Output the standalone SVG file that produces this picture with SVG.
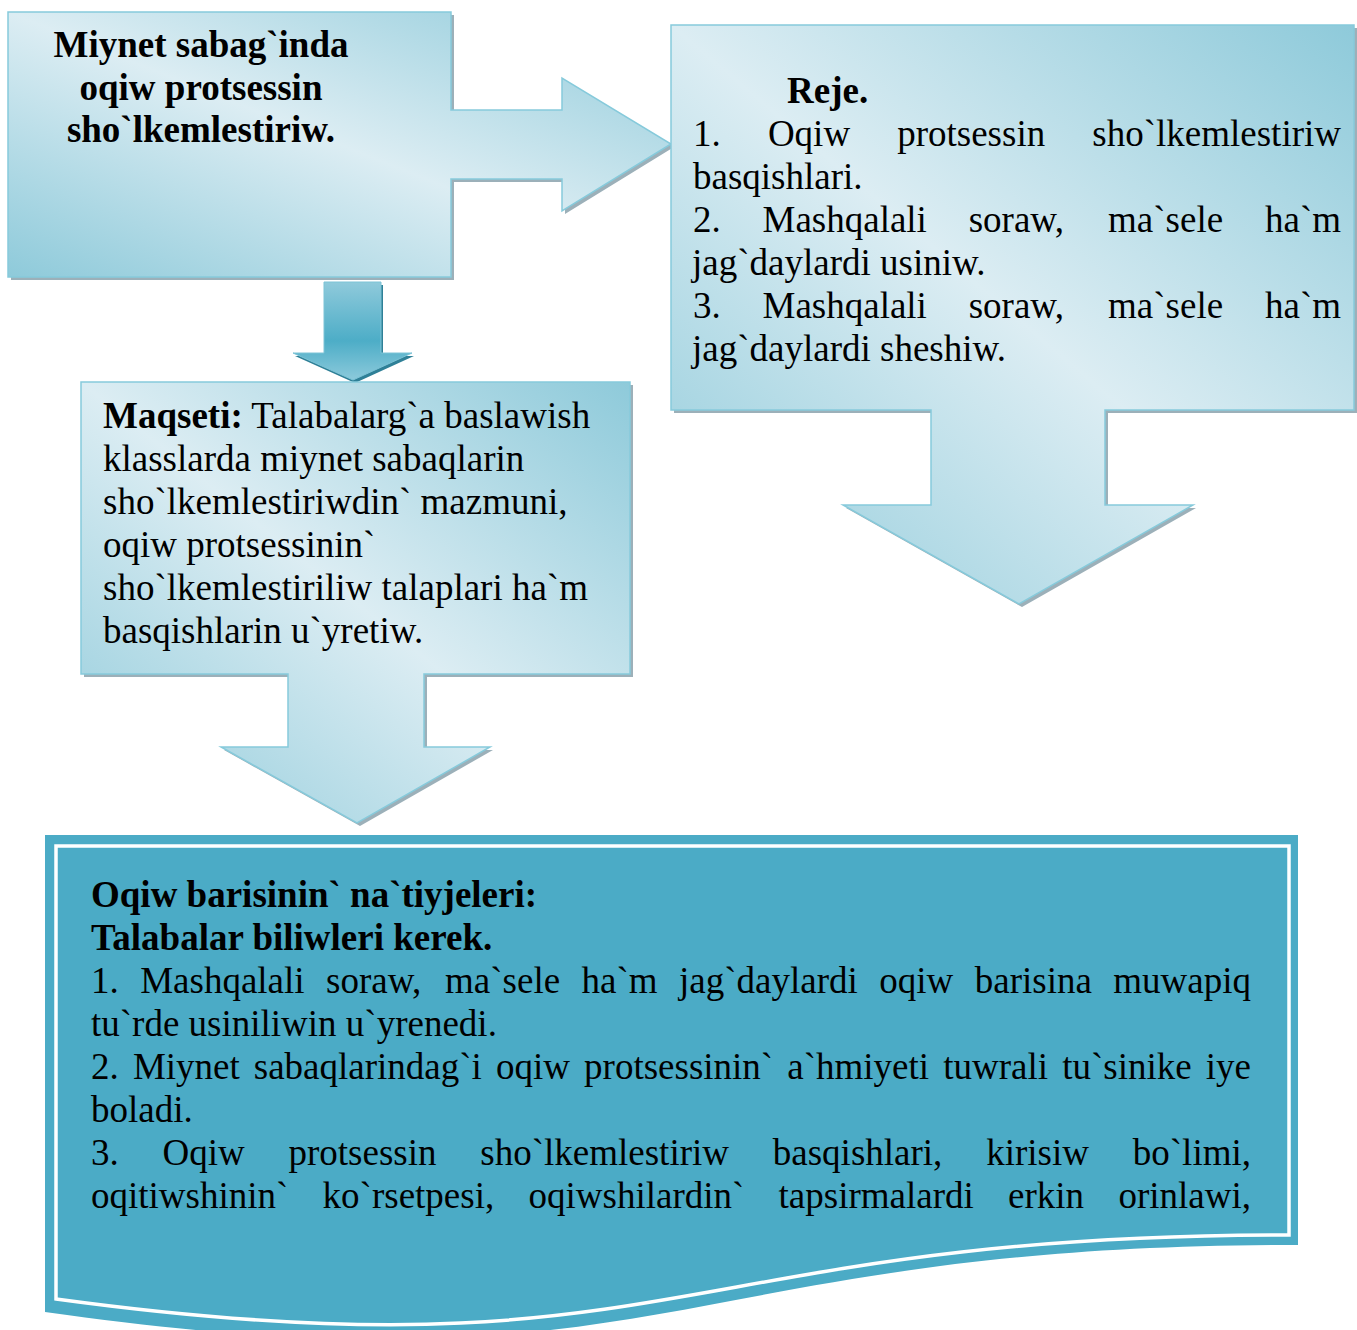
<svg xmlns="http://www.w3.org/2000/svg" width="1357" height="1330" viewBox="0 0 1357 1330">
<defs>
<linearGradient id="lg" x1="0" y1="1" x2="1" y2="0">
<stop offset="0" stop-color="#8ecada"/>
<stop offset="0.5" stop-color="#dcedf3"/>
<stop offset="1" stop-color="#8ecada"/>
</linearGradient>
<linearGradient id="ag" x1="0" y1="0" x2="0" y2="1">
<stop offset="0" stop-color="#8fcadb"/>
<stop offset="0.6" stop-color="#4dadc7"/>
<stop offset="1" stop-color="#8ccadb"/>
</linearGradient>
<style>
.sh{fill:#9cb0b9}
.box{fill:url(#lg);stroke:#86cadb;stroke-width:1.5}
text{font-family:"Liberation Serif","Times New Roman",serif;font-size:37px;fill:#000}
.b{font-weight:bold}
</style>
</defs>
<rect width="1357" height="1330" fill="#fff"/>

<g id="node-title">
<path class="sh" transform="translate(3,3)" d="M8,12 H451 V110 H562 V78 L671,144 L562,211 V179 H451 V277 H8 Z"/>
<path class="box" d="M8,12 H451 V110 H562 V78 L671,144 L562,211 V179 H451 V277 H8 Z"/>
<text class="b" text-anchor="middle"><tspan x="201" y="57">Miynet sabag`inda</tspan><tspan x="201" y="100">oqiw protsessin</tspan><tspan x="201" y="142">sho`lkemlestiriw.</tspan></text>
</g>

<g id="node-plan">
<path class="sh" transform="translate(3,3)" d="M671,25 H1354 V410 H1105 V505 H1193 L1019,604 L843,505 H931 V410 H671 Z"/>
<path class="box" d="M671,25 H1354 V410 H1105 V505 H1193 L1019,604 L843,505 H931 V410 H671 Z"/>
<text class="b" x="787" y="103">Reje.</text>
<text y="146"><tspan x="693">1.</tspan><tspan x="767.9">Oqiw</tspan><tspan x="897.2">protsessin</tspan><tspan x="1092.3">sho`lkemlestiriw</tspan></text>
<text x="693" y="189">basqishlari.</text>
<text y="232"><tspan x="693">2.</tspan><tspan x="762.5">Mashqalali</tspan><tspan x="968.7">soraw,</tspan><tspan x="1108.1">ma`sele</tspan><tspan x="1265">ha`m</tspan></text>
<text x="692" y="275">jag`daylardi usiniw.</text>
<text y="318"><tspan x="693">3.</tspan><tspan x="762.5">Mashqalali</tspan><tspan x="968.7">soraw,</tspan><tspan x="1108.1">ma`sele</tspan><tspan x="1265">ha`m</tspan></text>
<text x="692" y="361">jag`daylardi sheshiw.</text>
</g>

<g id="connectors">
<path fill="#2f8097" transform="translate(2,3)" d="M324,282 H381 V353 H412 L353,380 L293,353 H324 Z"/>
<path fill="url(#ag)" stroke="#7cc3d6" stroke-width="1" d="M324,282 H381 V353 H412 L353,380 L293,353 H324 Z"/>
</g>

<g id="node-goal">
<path class="sh" transform="translate(3,3)" d="M81,382 H630 V674 H424 V747 H490 L357,823 L221,747 H288 V674 H81 Z"/>
<path class="box" d="M81,382 H630 V674 H424 V747 H490 L357,823 L221,747 H288 V674 H81 Z"/>
<text x="103" y="428"><tspan class="b">Maqseti:</tspan> Talabalarg`a baslawish</text>
<text x="103" y="471">klasslarda miynet sabaqlarin</text>
<text x="103" y="514">sho`lkemlestiriwdin` mazmuni,</text>
<text x="103" y="557">oqiw protsessinin`</text>
<text x="103" y="600">sho`lkemlestiriliw talaplari ha`m</text>
<text x="103" y="643">basqishlarin u`yretiw.</text>
</g>

<g id="node-results">
<path fill="#4babc6" d="M45,835 H1298 V1245 C671,1245 671,1401 45,1312 Z"/>
<path fill="none" stroke="#fff" stroke-width="3.5" d="M56,846 H1289 V1235 C672,1235 672,1383 56,1299 Z"/>
<text class="b" x="91" y="907">Oqiw barisinin` na`tiyjeleri:</text>
<text class="b" x="91" y="950">Talabalar biliwleri kerek.</text>
<text y="993"><tspan x="91">1.</tspan><tspan x="140.2">Mashqalali</tspan><tspan x="326.1">soraw,</tspan><tspan x="445.1">ma`sele</tspan><tspan x="581.6">ha`m</tspan><tspan x="679.1">jag`daylardi</tspan><tspan x="879.3">oqiw</tspan><tspan x="974.8">barisina</tspan><tspan x="1113.3">muwapiq</tspan></text>
<text x="91" y="1036">tu`rde usiniliwin u`yrenedi.</text>
<text y="1079"><tspan x="91">2.</tspan><tspan x="132.9">Miynet</tspan><tspan x="253.8">sabaqlarindag`i</tspan><tspan x="496">oqiw</tspan><tspan x="584.1">protsessinin`</tspan><tspan x="787.3">a`hmiyeti</tspan><tspan x="943.3">tuwrali</tspan><tspan x="1062.2">tu`sinike</tspan><tspan x="1205.8">iye</tspan></text>
<text x="91" y="1122">boladi.</text>
<text y="1165"><tspan x="91">3.</tspan><tspan x="162.5">Oqiw</tspan><tspan x="288.5">protsessin</tspan><tspan x="480.3">sho`lkemlestiriw</tspan><tspan x="772.8">basqishlari,</tspan><tspan x="986.2">kirisiw</tspan><tspan x="1132.8">bo`limi,</tspan></text>
<text y="1208"><tspan x="91">oqitiwshinin`</tspan><tspan x="322.6">ko`rsetpesi,</tspan><tspan x="528.5">oqiwshilardin`</tspan><tspan x="778.6">tapsirmalardi</tspan><tspan x="1008.1">erkin</tspan><tspan x="1118.4">orinlawi,</tspan></text>
</g>
</svg>
